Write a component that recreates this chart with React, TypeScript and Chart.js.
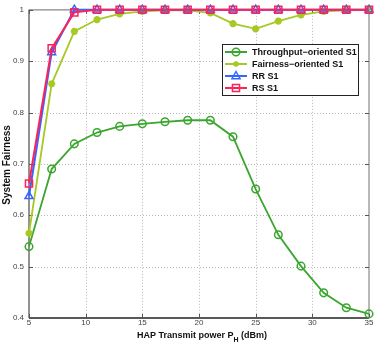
import React, { useEffect, useRef } from 'react';
import { Chart, registerables } from 'chart.js';

Chart.register(...registerables);

const powers = [5, 7, 9, 11, 13, 15, 17, 19, 21, 23, 25, 27, 29, 31, 33, 35];
const throughputS1 = [0.539, 0.69, 0.739, 0.761, 0.773, 0.778, 0.782, 0.785, 0.785, 0.753, 0.651, 0.562, 0.501, 0.449, 0.42, 0.408];
const fairnessS1 = [0.565, 0.856, 0.958, 0.981, 0.992, 0.997, 0.999, 0.999, 0.994, 0.973, 0.963, 0.978, 0.99, 0.997, 0.999, 1.0];
const rrS1 = [0.637, 0.917, 1, 1, 1, 1, 1, 1, 1, 1, 1, 1, 1, 1, 1, 1];
const rsS1 = [0.662, 0.925, 0.995, 1, 1, 1, 1, 1, 1, 1, 1, 1, 1, 1, 1, 1];
const xTicks = [5, 10, 15, 20, 25, 30, 35];
const yTicks = [0.4, 0.5, 0.6, 0.7, 0.8, 0.9, 1];
const seriesLabels = ['Throughput\u2212oriented S1', 'Fairness\u2212oriented S1', 'RR S1', 'RS S1'];

const GREEN = '#3aa62e';
const LIME = '#a6c925';
const BLUE = '#3366ff';
const RED = '#ff2257';
const FONT = '"Liberation Sans", Arial, Helvetica, sans-serif';

function drawMarker(ctx: CanvasRenderingContext2D, kind: string, x: number, y: number, color: string) {
  ctx.save();
  ctx.strokeStyle = color;
  ctx.fillStyle = color;
  ctx.lineWidth = 1.5;
  ctx.beginPath();
  if (kind === 'circle') {
    ctx.arc(x, y, 3.8, 0, Math.PI * 2);
    ctx.stroke();
  } else if (kind === 'star') {
    ctx.arc(x, y, 2.8, 0, Math.PI * 2);
    ctx.fill();
  } else if (kind === 'triangle') {
    const r = 4.5;
    ctx.moveTo(x, y - r);
    ctx.lineTo(x + r * 0.9, y + r * 0.6);
    ctx.lineTo(x - r * 0.9, y + r * 0.6);
    ctx.closePath();
    ctx.stroke();
  } else {
    ctx.rect(x - 3.5, y - 3.5, 7, 7);
    ctx.stroke();
  }
  ctx.restore();
}

const framePlugin = {
  id: 'frame',
  beforeDatasetsDraw(chart: any) {
    const { ctx, chartArea: a, scales } = chart;
    const xs = scales.x;
    const ys = scales.y;
    ctx.save();
    ctx.strokeStyle = '#b8b8b8';
    ctx.lineWidth = 1;
    ctx.setLineDash([1, 2]);
    xTicks.forEach((v) => {
      const px = Math.round(xs.getPixelForValue(v)) + 0.5;
      if (px < a.left + 2 || px > a.right - 2) return;
      ctx.beginPath();
      ctx.moveTo(px, a.top);
      ctx.lineTo(px, a.bottom);
      ctx.stroke();
    });
    yTicks.forEach((v) => {
      const py = Math.round(ys.getPixelForValue(v)) + 0.5;
      if (py < a.top + 2 || py > a.bottom - 2) return;
      ctx.beginPath();
      ctx.moveTo(a.left, py);
      ctx.lineTo(a.right, py);
      ctx.stroke();
    });
    ctx.setLineDash([]);
    // frame
    ctx.lineWidth = 1.2;
    ctx.strokeStyle = '#888';
    ctx.beginPath();
    ctx.moveTo(a.left, a.top);
    ctx.lineTo(a.right, a.top);
    ctx.lineTo(a.right, a.bottom);
    ctx.stroke();
    ctx.strokeStyle = '#777';
    ctx.lineWidth = 1.6;
    ctx.beginPath();
    ctx.moveTo(a.left, a.top);
    ctx.lineTo(a.left, a.bottom);
    ctx.stroke();
    ctx.strokeStyle = '#222';
    ctx.lineWidth = 1.4;
    ctx.beginPath();
    ctx.moveTo(a.left, a.bottom);
    ctx.lineTo(a.right, a.bottom);
    ctx.stroke();
    // inward tick marks
    ctx.lineWidth = 1;
    ctx.strokeStyle = '#555';
    const tl = 4;
    yTicks.forEach((v) => {
      const py = Math.round(ys.getPixelForValue(v)) + 0.5;
      ctx.beginPath();
      ctx.moveTo(a.left, py);
      ctx.lineTo(a.left + tl, py);
      ctx.moveTo(a.right, py);
      ctx.lineTo(a.right - tl, py);
      ctx.stroke();
    });
    xTicks.forEach((v) => {
      const px = Math.round(xs.getPixelForValue(v)) + 0.5;
      ctx.beginPath();
      ctx.moveTo(px, a.bottom);
      ctx.lineTo(px, a.bottom - tl);
      ctx.moveTo(px, a.top);
      ctx.lineTo(px, a.top + tl);
      ctx.stroke();
    });
    ctx.restore();
  },
  afterDraw(chart: any) {
    const { ctx, chartArea: a } = chart;
    ctx.save();
    // legend
    const lx = 222.5, ly = 44.5, lw = 136, lh = 51;
    ctx.fillStyle = '#fff';
    ctx.fillRect(lx, ly, lw, lh);
    ctx.strokeStyle = '#222';
    ctx.lineWidth = 1;
    ctx.strokeRect(lx, ly, lw, lh);
    const colors = [GREEN, LIME, BLUE, RED];
    const kinds = ['circle', 'star', 'triangle', 'rect'];
    seriesLabels.forEach((lab, i) => {
      const y = 52 + i * 12;
      ctx.strokeStyle = colors[i];
      ctx.lineWidth = 2;
      ctx.beginPath();
      ctx.moveTo(225, y);
      ctx.lineTo(247, y);
      ctx.stroke();
      drawMarker(ctx, kinds[i], 236, y, colors[i]);
      ctx.fillStyle = '#111';
      ctx.font = 'bold 9px ' + FONT;
      ctx.textBaseline = 'middle';
      ctx.textAlign = 'left';
      ctx.fillText(lab, 252, y + 0.5);
    });
    // x title
    const cx = (a.left + a.right) / 2 + 3;
    const p1 = 'HAP Transmit power P';
    const sub = 'H';
    const p2 = ' (dBm)';
    ctx.font = 'bold 9px ' + FONT;
    const w1 = ctx.measureText(p1).width;
    const w3 = ctx.measureText(p2).width;
    ctx.font = 'bold 7px ' + FONT;
    const w2 = ctx.measureText(sub).width;
    const total = w1 + w2 + w3;
    const x0 = cx - total / 2;
    const by = 338;
    ctx.fillStyle = '#111';
    ctx.textBaseline = 'alphabetic';
    ctx.textAlign = 'left';
    ctx.font = 'bold 9px ' + FONT;
    ctx.fillText(p1, x0, by);
    ctx.font = 'bold 7px ' + FONT;
    ctx.fillText(sub, x0 + w1, by + 4);
    ctx.font = 'bold 9px ' + FONT;
    ctx.fillText(p2, x0 + w1 + w2, by);
    // y title
    ctx.translate(7, (a.top + a.bottom) / 2 + 1);
    ctx.rotate(-Math.PI / 2);
    ctx.textAlign = 'center';
    ctx.textBaseline = 'middle';
    ctx.font = 'bold 10px ' + FONT;
    ctx.fillText('System Fairness', 0, 0);
    ctx.restore();
  },
};

export default function App() {
  const ref = useRef<HTMLCanvasElement | null>(null);
  useEffect(() => {
    if (!ref.current) return;
    const mk = (label: string, data: number[], color: string, style: any, radius: number, order: number, bw: number, pbw: number) => ({
      label,
      data: powers.map((p, i) => ({ x: p, y: data[i] })),
      borderColor: color,
      backgroundColor: style === 'star' ? color : 'rgba(0,0,0,0)',
      pointBorderColor: color,
      pointBackgroundColor: style === 'star' ? color : 'rgba(0,0,0,0)',
      pointStyle: style,
      pointRadius: radius,
      pointBorderWidth: pbw,
      borderWidth: bw,
      tension: 0,
      clip: false,
      order,
    });
    const chart = new Chart(ref.current, {
      type: 'line',
      data: {
        datasets: [
          mk(seriesLabels[0], throughputS1, GREEN, 'circle', 3.8, 3, 1.8, 1.5),
          mk(seriesLabels[1], fairnessS1, LIME, 'star', 3.6, 2, 1.8, 2.2),
          mk(seriesLabels[2], rrS1, BLUE, 'triangle', 4.6, 1, 2, 1.5),
          mk(seriesLabels[3], rsS1, RED, 'rect', 5, 0, 2, 1.5),
        ] as any,
      },
      options: {
        animation: false,
        responsive: false,
        layout: { padding: { left: 0, right: 18, top: 6, bottom: 0 } },
        plugins: { legend: { display: false }, tooltip: { enabled: false } },
        scales: {
          x: {
            type: 'linear',
            min: 5,
            max: 35,
            afterFit: (s: any) => { s.height = 28; },
            afterBuildTicks: (s: any) => { s.ticks = xTicks.map((v) => ({ value: v })); },
            grid: { display: false, drawTicks: false },
            border: { display: false },
            ticks: { padding: 0, color: '#444', font: { family: FONT, size: 8 }, callback: (v: any) => String(v), maxRotation: 0 },
          },
          y: {
            type: 'linear',
            min: 0.4,
            max: 1,
            afterFit: (s: any) => { s.width = 29; },
            afterBuildTicks: (s: any) => { s.ticks = yTicks.map((v) => ({ value: v })); },
            grid: { display: false, drawTicks: false },
            border: { display: false },
            ticks: {
              padding: 5,
              color: '#444',
              font: { family: FONT, size: 8 },
              callback: (v: any) => (Math.abs(v - 1) < 1e-9 ? '1' : Number(v).toFixed(1)),
            },
          },
        },
      },
      plugins: [framePlugin],
    } as any);
    return () => chart.destroy();
  }, []);
  return (
    <div style={{ position: 'absolute', left: 0, top: 0, width: 387, height: 346, background: '#fff' }}>
      <canvas ref={ref} width={387} height={346} style={{ width: 387, height: 346, display: 'block' }} />
    </div>
  );
}
